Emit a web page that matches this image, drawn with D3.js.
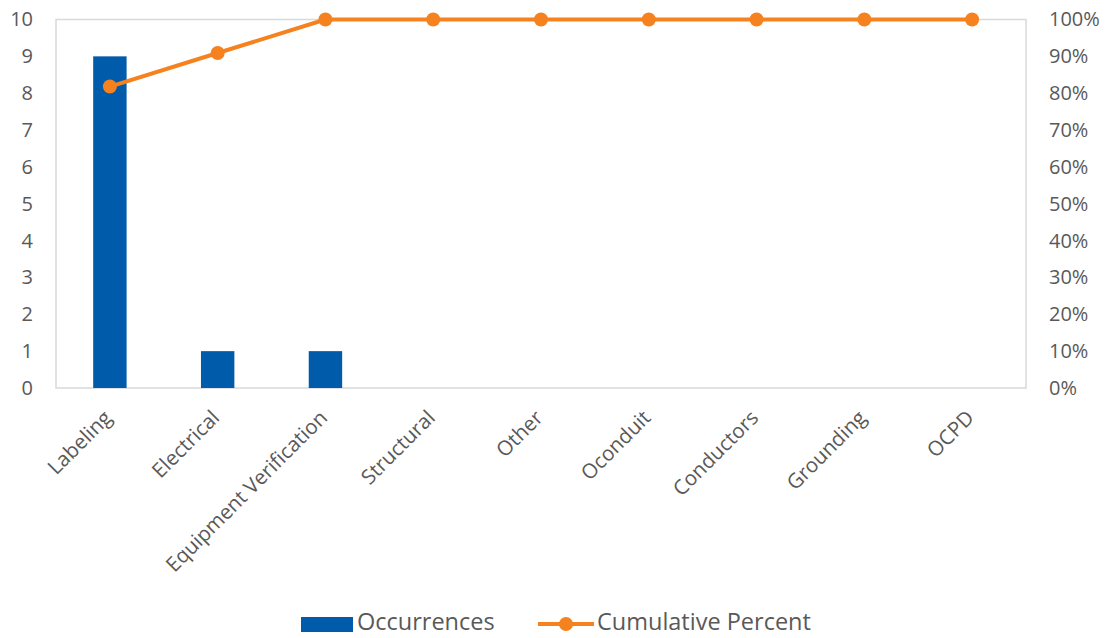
<!DOCTYPE html>
<html>
<head>
<meta charset="utf-8">
<script src="https://cdn.jsdelivr.net/npm/d3@7"></script>
<style>
  html, body { margin: 0; padding: 0; background: #fff; }
  svg text { font-family: "Open Sans", Lato, sans-serif; fill: #595959; }
</style>
</head>
<body>
<svg id="chart" width="1106" height="638"></svg>
<script>
// Pareto chart of inspection findings
const categories = ["Labeling", "Electrical", "Equipment Verification", "Structural", "Other", "Oconduit", "Conductors", "Grounding", "OCPD"];
const occurrences = [9, 1, 1, 0, 0, 0, 0, 0, 0];
const cumulativePercent = [0.818, 0.909, 1, 1, 1, 1, 1, 1, 1];
const leftTicks = [0, 1, 2, 3, 4, 5, 6, 7, 8, 9, 10];
const rightTicks = [0, 0.1, 0.2, 0.3, 0.4, 0.5, 0.6, 0.7, 0.8, 0.9, 1];
const seriesNames = ["Occurrences", "Cumulative Percent"];

const barColor = "#005BAA";
const lineColor = "#F5821F";

const svg = d3.select("#chart");
const m = { left: 56, right: 1026, top: 19.5, bottom: 388 };

const x = d3.scaleBand().domain(categories).range([m.left, m.right]).paddingInner(0.69).paddingOuter(0.345);
const xc = d3.scalePoint().domain(categories).range([m.left, m.right]).padding(0.5);
const yL = d3.scaleLinear().domain([0, 10]).range([m.bottom, m.top]);
const yR = d3.scaleLinear().domain([0, 1]).range([m.bottom, m.top]);

// plot frame
svg.append("rect")
  .attr("x", m.left).attr("y", m.top)
  .attr("width", m.right - m.left).attr("height", m.bottom - m.top)
  .attr("fill", "none").attr("stroke", "#d9d9d9").attr("stroke-width", 1.5);

// left axis
const left = svg.append("g").attr("transform", `translate(${m.left},0)`)
  .call(d3.axisLeft(yL).tickValues(leftTicks).tickSize(0).tickPadding(23));
left.select(".domain").remove();
left.selectAll("text").style("font-size", "20px").attr("fill", "#595959");

// right axis
const right = svg.append("g").attr("transform", `translate(${m.right},0)`)
  .call(d3.axisRight(yR).tickValues(rightTicks).tickFormat(d3.format(".0%")).tickSize(0).tickPadding(23));
right.select(".domain").remove();
right.selectAll("text").style("font-size", "20px").attr("fill", "#595959");

// category labels, rotated 45 degrees
svg.append("g").selectAll("text").data(categories).join("text")
  .attr("transform", d => `translate(${xc(d) - 2},${m.bottom + 26}) rotate(-45)`)
  .attr("text-anchor", "end")
  .attr("dy", "0.35em")
  .style("font-size", "20.5px")
  .text(d => d);

// bars
svg.append("g").selectAll("rect").data(categories).join("rect")
  .attr("x", d => x(d))
  .attr("width", x.bandwidth())
  .attr("y", (d, i) => yL(occurrences[i]))
  .attr("height", (d, i) => yL(0) - yL(occurrences[i]))
  .attr("fill", barColor);

// cumulative line
const line = d3.line().x((d, i) => xc(categories[i])).y(d => yR(d));
svg.append("path").datum(cumulativePercent)
  .attr("d", line).attr("fill", "none")
  .attr("stroke", lineColor).attr("stroke-width", 4).attr("stroke-linejoin", "round");
svg.append("g").selectAll("circle").data(cumulativePercent).join("circle")
  .attr("cx", (d, i) => xc(categories[i])).attr("cy", d => yR(d))
  .attr("r", 7).attr("fill", lineColor);

// legend
const lg = svg.append("g");
lg.append("rect").attr("x", 301).attr("y", 617).attr("width", 52).attr("height", 15).attr("fill", barColor);
lg.append("text").attr("x", 357).attr("y", 622).attr("dy", "0.35em").style("font-size", "23.5px").text(seriesNames[0]);
lg.append("line").attr("x1", 538).attr("x2", 594).attr("y1", 624).attr("y2", 624)
  .attr("stroke", lineColor).attr("stroke-width", 4);
lg.append("circle").attr("cx", 566).attr("cy", 624).attr("r", 7).attr("fill", lineColor);
lg.append("text").attr("x", 597).attr("y", 622).attr("dy", "0.35em").style("font-size", "23.5px").text(seriesNames[1]);
</script>
</body>
</html>
